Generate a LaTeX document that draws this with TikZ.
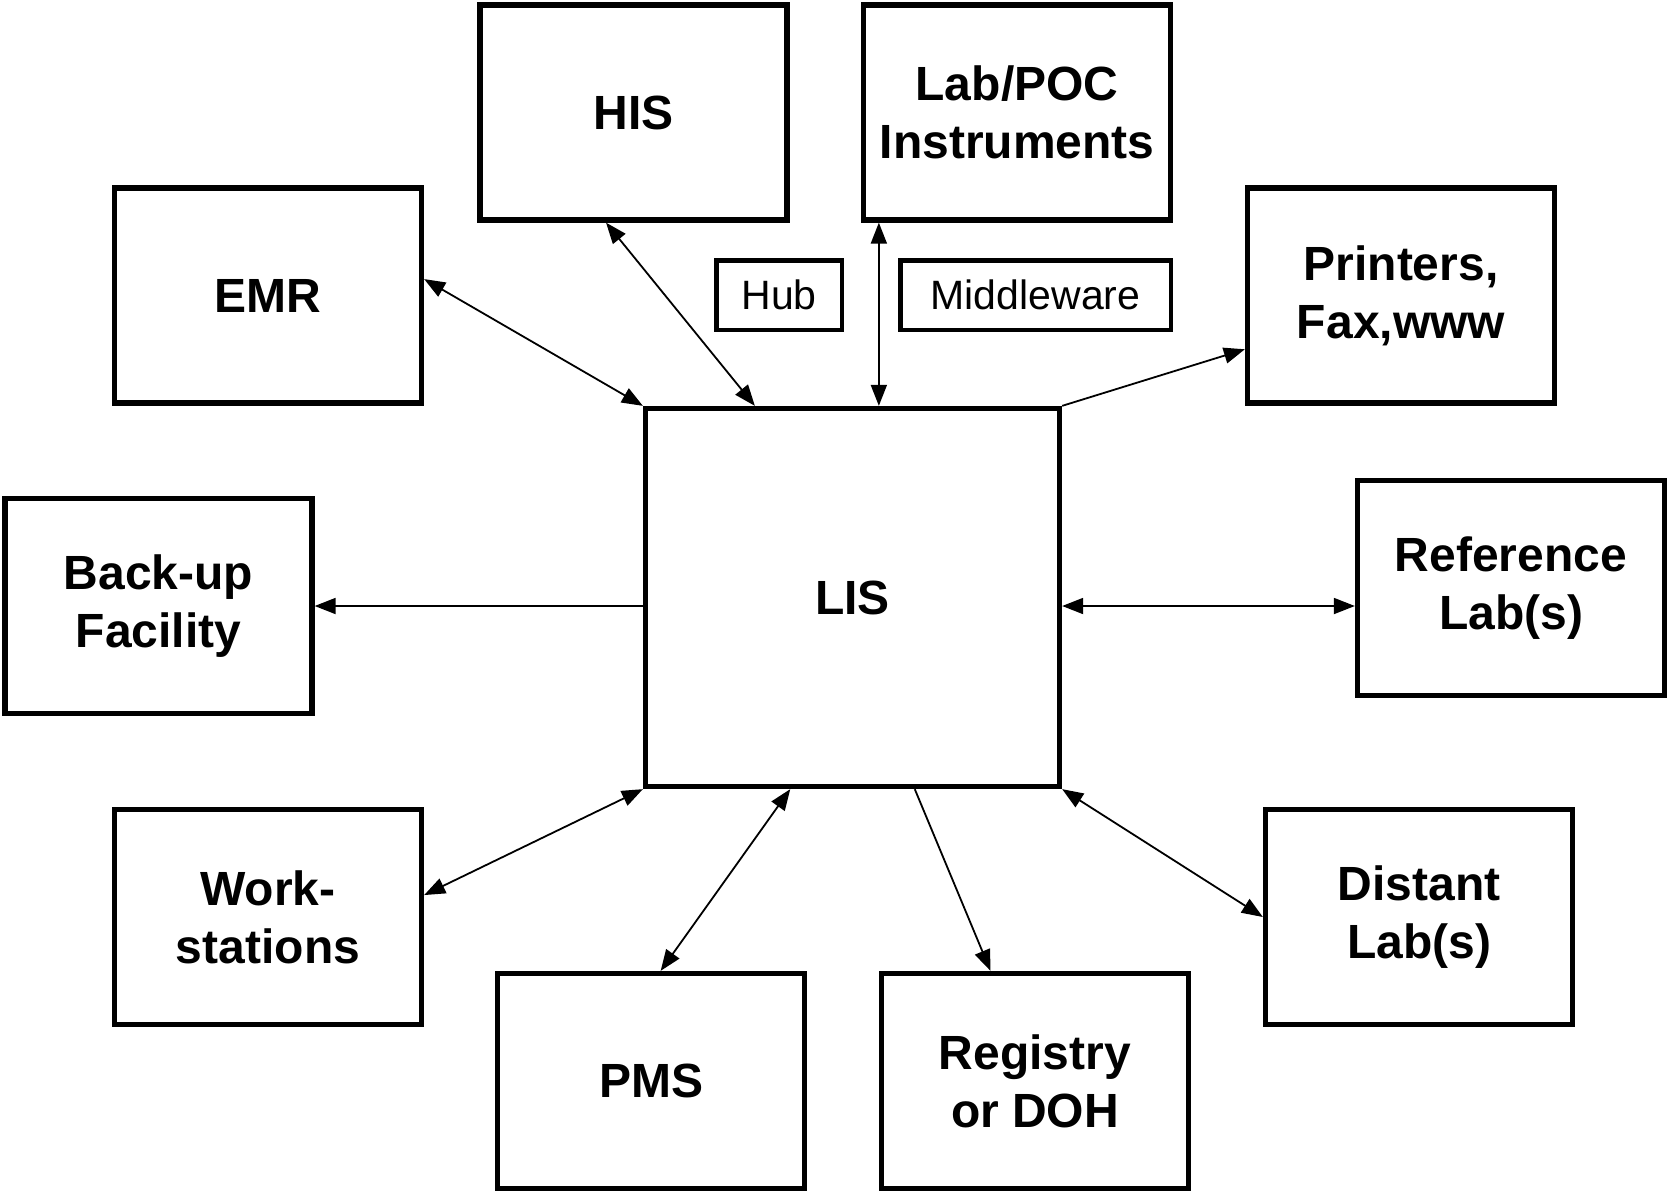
\documentclass[tikz,border=0pt]{standalone}
\usepackage{fontspec}
\setmainfont{Liberation Sans}
\usepackage{tikz}
\usetikzlibrary{arrows.meta}
\pgfdeclarelayer{nodelayer}
\pgfdeclarelayer{edgelayer}
\pgfsetlayers{nodelayer,edgelayer,main}

\begin{document}
\begin{tikzpicture}[x=1pt, y=-1pt,
    sysbox/.style={draw, line width=5.3pt, minimum width=307pt, minimum height=215pt,
      align=center, inner sep=0pt, font=\fontsize{48}{58}\selectfont\bfseries},
    tagbox/.style={draw, line width=4.5pt, minimum height=69.5pt, inner sep=0pt,
      font=\fontsize{41}{48}\selectfont},
    link/.style={line width=1.8pt, >={Triangle[length=21pt,width=16pt]}}]
  \useasboundingbox (0,0) rectangle (1669,1194);
  \begin{pgfonlayer}{nodelayer}
    \node [sysbox] (his) at (633.5,112.5) {HIS};
    \node [sysbox] (labpoc) at (1017,112.5) {Lab/POC\\Instruments};
    \node [sysbox] (emr) at (268,295.5) {EMR};
    \node [sysbox] (printers) at (1401,295.5) {Printers,\\Fax,www};
    \node [tagbox, minimum width=125.5pt] (hub) at (779,295) {Hub};
    \node [tagbox, minimum width=270.5pt] (mw) at (1035.5,295) {Middleware};
    \node [sysbox, minimum width=414pt, minimum height=378pt] (lis) at (852.5,597.5) {LIS};
    \node [sysbox] (backup) at (158.5,606) {Back-up\\Facility};
    \node [sysbox] (ref) at (1511,588) {Reference\\Lab(s)};
    \node [sysbox] (ws) at (268,917) {Work-\\stations};
    \node [sysbox] (distant) at (1419,917) {Distant\\Lab(s)};
    \node [sysbox] (pms) at (651,1081) {PMS};
    \node [sysbox] (reg) at (1035,1081) {Registry\\or DOH};
  \end{pgfonlayer}
  \begin{pgfonlayer}{edgelayer}
    \draw [link, <->] (emr.6) -- (lis.north west);
    \draw [link, <->] (his.256) -- (lis.117.5);
    \draw [link, <->] ([xshift=18pt]labpoc.south west) -- ([xshift=18pt]labpoc.south west |- lis.north);
    \draw [link, ->] (lis.north east) -- (printers.199);
    \draw [link, ->] (lis.west |- backup.east) -- (backup.east);
    \draw [link, <->] (lis.east |- backup.east) -- (ref.west |- backup.east);
    \draw [link, <->] (lis.south west) -- (ws.8);
    \draw [link, <->] (lis.252) -- (pms.85);
    \draw [link, ->] (lis.288) -- (reg.112);
    \draw [link, <->] (lis.south east) -- (distant.west);
  \end{pgfonlayer}
\end{tikzpicture}
\end{document}
